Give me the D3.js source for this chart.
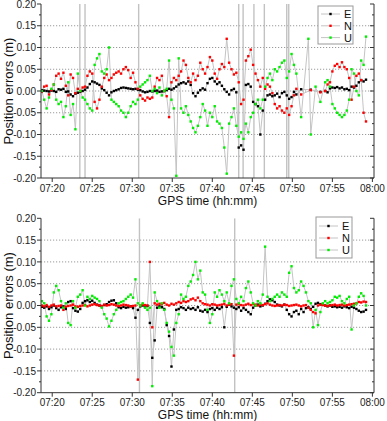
<!DOCTYPE html>
<html><head><meta charset="utf-8">
<script src="https://cdn.jsdelivr.net/npm/d3@7"></script>
<style>body{margin:0;background:#fff}svg{display:block;font-family:"Liberation Sans",Arial,sans-serif}</style>
</head><body><svg id="c" width="387" height="421"></svg>
<script>
// ---- data (position errors in millimetres, sampled every 0.3 min from 07:18.7) ----
const seriesNames = ["E", "N", "U"];
const seriesColors = ["#000000", "#ff0000", "#00ee00"];
const sampleStart = 18.7;   // minutes after 07:00
const sampleStep = 0.3;
const xTickLabels = ["07:20","07:25","07:30","07:35","07:40","07:45","07:50","07:55","08:00"];
const yTickValues = [-200,-150,-100,-50,0,50,100,150,200];

const topE = [2,1,0,-1,1, 0,-2,4,3,5, -2,-1,-8,-12,-6, -4,-2,0,3,8, 16,22,20,17,14, 6,2,-4,-10,-3,
  0,2,4,7,8, 7,6,5,4,5, 3,2,-1,-3,-2, 0,-1,0,1,-2, -1,0,2,5,3, 6,10,15,18,20,
  17,22,14,-5,-12, -4,2,6,3,18, 28,30,22,16,20, 12,4,-2,-8,2, 5,-3,-130,-125,-135, 14,16,10,-25,-30,
  -35,-100,-45,-20,-10, -8,-12,-10,-6,-14, -5,-2,-10,-18,-14, -2,-8,null,4,null, null,null,3,null,null,
  null,-2,null,0,-3, 6,8,7,9,6, 8,4,5,2,10, 8,12,20,25,22,26];
const topN = [-2,10,12,-8,2, 15,35,40,28,42, 12,-10,38,30,-5, 5,0,8,10,35, 45,40,-25,-40,-20, 10,30,38,25,30,
  38,42,45,40,50, 55,48,30,42,20, 5,-10,-18,-22,-15, -18,-15,10,30,25, 35,0,-12,-60,20, 30,25,35,45,70,
  60,30,20,40,25, 35,65,50,40,55, 78,70,40,28,50, 62,55,120,65,50, 38,42,20,-30,-20, 70,80,95,60,40,
  25,10,30,5,15, 10,-5,-30,-40,-35, -45,-50,-40,-55,-35, -10,5,null,-8,null, null,null,2,null,null,
  null,-3,null,0,15, 20,45,58,62,55, 66,55,50,30,-20, 10,35,40,25,-50,-70];
const topU = [0,-20,-40,-15,5, 15,-20,-30,-25,-60, -35,20,-55,-30,-88, 40,0,-15,-20,-30, -40,-45,60,75,85, 45,40,50,100,-20,
  -25,-30,-35,-45,-50, -60,-50,-35,-25,-30, -20,10,15,20,25, 35,0,5,-5,8, -10,0,5,70,-20, -40,-195,75,-40,-50,
  -35,-55,-70,-85,-95, -80,-60,-30,-45,-80, -50,-60,-35,-70,-75, -85,-130,-190,-75,-60, -40,-80,-105,-95,-110, -75,-95,-60,-50,-30,
  -20,-40,-20,10,30, 40,25,50,45,55, 65,70,30,45,85, 60,40,null,-60,null, null,120,-100,null,10,
  null,-25,null,20,25, 10,-30,-40,-50,-55, -60,-55,-45,-20,50, 40,0,-10,70,60,125];
const topOutages = [23.45, 24.1, 30.8, 43.3, 43.85, 45.2, 46.5, 49.3, 49.55];

const botE = [-3,-5,-2,-8,-4, 0,-6,-10,-4,-2, -8,8,10,-6,-12, -14,-8,6,10,12, 8,11,6,2,0, -2,1,3,8,11,
  12,5,-4,-6,-3, -5,-4,-2,-6,-28, -10,-2,0,-3,-1, -40,-120,-80,-5,-2, -4,-8,-45,-70,-140, -55,-10,-8,-4,-6,
  -10,-5,-8,-6,-10, -4,-12,-14,-10,-15, -8,-6,-10,-5,-8, -4,-50,-3,2,-2, -5,-8,-4,-12,-6, -10,-15,-20,-5,0,
  2,-2,0,4,10, 14,12,8,2,0, -2,2,-10,-20,-25, -15,-12,-20,-8,-15, -6,-4,-8,-3,4,
  6,3,2,0,-2, 0,-3,-2,-4,-3, -5,-2,-4,-6,-3, -5,-8,-12,-15,-14,-10];
const botN = [0,-2,1,-3,0, 2,-2,-1,0,-10, -3,-1,0,2,-2, -3,-1,0,1,-2, 0,2,3,1,0, -1,2,0,1,3,
  2,0,-1,0,2, 1,0,-2,-1,0, -170,0,2,1,0, 100,-50,5,2,4, 3,6,2,0,4, 2,5,8,6,10,
  8,10,14,16,12, 18,10,5,3,2, 0,3,2,0,1, 2,4,0,2,3, -115,2,3,1,0, 2,4,1,3,2,
  0,2,1,3,5, 2,0,-1,0,1, 0,2,1,-1,0, 1,2,0,-2,0, 1,-5,-10,-15,-18,
  0,2,1,0,-1, 0,1,2,0,1, 2,0,1,2,3, 4,5,8,7,9,8];
const botU = [10,5,-25,-35,-20, 30,45,35,10,-5, 5,-40,-45,10,-5, 20,25,35,0,20, 15,22,18,15,10, -5,-20,-30,-48,-35,
  -20,-10,5,8,10, 15,20,25,18,60, 5,0,5,-5,-10, -5,-185,30,10,-5, 5,-10,-40,-60,-95, -115,-40,-20,25,15,
  20,45,55,70,100, 60,80,30,25,-10, -40,-20,30,20,35, 25,10,30,5,45, 60,15,5,20,10, 40,55,30,5,0,
  10,5,25,135,20, 10,15,20,25,20, 30,25,20,75,90, 40,30,35,55,45, 30,10,5,-50,-10,
  -45,-15,5,10,5, 8,12,20,18,22, 10,5,15,20,-55, 0,5,20,28,22,0];
const botOutages = [30.9, 42.8];

// ---- drawing ----
const svg = d3.select("#c");
const X0 = 41, X1 = 374;
const x = d3.scaleLinear().domain([18.6, 60.2]).range([X0, X1]);
const times = topE.map((_, i) => sampleStart + i * sampleStep);
const xTickValues = xTickLabels.map(s => { const [h, m] = s.split(":").map(Number); return h * 60 + m - 420; });
const lineColor = "#c4c4c4";

function panel(id, yTop, yBot, series, outages, leg) {
  const y = d3.scaleLinear().domain([-200, 200]).range([yBot, yTop]);
  const g = svg.append("g");
  svg.append("clipPath").attr("id", id).append("rect")
    .attr("x", X0).attr("y", yTop).attr("width", X1 - X0).attr("height", yBot - yTop);

  // grid
  g.append("g").selectAll("line").data(yTickValues.filter(v => v > -200 && v < 200)).join("line")
    .attr("x1", X0).attr("x2", X1).attr("y1", d => y(d)).attr("y2", d => y(d))
    .attr("stroke", "#9a9a9a").attr("stroke-width", 1).attr("stroke-dasharray", "1.2,1.8");

  const plot = g.append("g").attr("clip-path", `url(#${id})`);
  // outage lines
  plot.selectAll("line.out").data(outages).join("line").attr("class", "out")
    .attr("x1", d => x(d)).attr("x2", d => x(d)).attr("y1", yTop).attr("y2", yBot)
    .attr("stroke", "#c2c2c2").attr("stroke-width", 1.4);

  const line = d3.line().x(d => x(d[0])).y(d => y(d[1]));
  const pts = series.map(arr => arr.map((v, i) => [times[i], v]).filter(d => d[1] !== null));
  pts.forEach(p => plot.append("path").attr("d", line(p)).attr("fill", "none")
    .attr("stroke", lineColor).attr("stroke-width", 1));
  pts.forEach((p, k) => plot.append("g").selectAll("rect").data(p).join("rect")
    .attr("x", d => x(d[0]) - 1.2).attr("y", d => y(d[1]) - 1.2)
    .attr("width", 2.4).attr("height", 2.4).attr("fill", seriesColors[k]));

  // axes
  const minor = d3.range(-175, 200, 50);
  const ax = g.append("g").attr("fill", "none").attr("stroke", "#333");
  ax.append("line").attr("x1", X0).attr("x2", X0).attr("y1", yTop).attr("y2", yBot);
  ax.append("line").attr("x1", X1).attr("x2", X1).attr("y1", yTop).attr("y2", yBot);
  ax.append("line").attr("x1", X0).attr("x2", X1).attr("y1", yBot).attr("y2", yBot);
  yTickValues.forEach(v => {
    ax.append("line").attr("x1", X0 - 4).attr("x2", X0).attr("y1", y(v)).attr("y2", y(v));
    ax.append("line").attr("x1", X1 - 4).attr("x2", X1).attr("y1", y(v)).attr("y2", y(v));
  });
  minor.forEach(v => {
    ax.append("line").attr("x1", X0 - 2).attr("x2", X0).attr("y1", y(v)).attr("y2", y(v));
    ax.append("line").attr("x1", X1 - 2).attr("x2", X1).attr("y1", y(v)).attr("y2", y(v));
  });
  xTickValues.forEach(v => ax.append("line").attr("x1", x(v)).attr("x2", x(v)).attr("y1", yBot).attr("y2", yBot + 4));

  g.append("g").selectAll("text").data(yTickValues).join("text")
    .attr("x", X0 - 5).attr("y", d => y(d) + 3.6).attr("text-anchor", "end")
    .attr("font-size", 10).attr("fill", "#222").text(d => (d / 1000).toFixed(2));
  g.append("g").selectAll("text").data(xTickValues).join("text")
    .attr("x", d => x(d)).attr("y", yBot + 13.5).attr("text-anchor", "middle")
    .attr("font-size", 10).attr("fill", "#222").text((d, i) => xTickLabels[i]);
  g.append("text").attr("x", 207.5).attr("y", yBot + 26.5).attr("text-anchor", "middle")
    .attr("font-size", 12).attr("fill", "#111").text("GPS time (hh:mm)");
  g.append("text").attr("transform", `translate(12.5,${(yTop + yBot) / 2}) rotate(-90)`)
    .attr("text-anchor", "middle").attr("font-size", 13).attr("fill", "#111").text("Position errors (m)");

  // legend
  const lg = g.append("g");
  lg.append("rect").attr("x", leg.x).attr("y", leg.y).attr("width", leg.w).attr("height", leg.h)
    .attr("fill", "#fff").attr("stroke", "#999");
  seriesNames.forEach((n, k) => {
    const yy = leg.y + leg.first + k * leg.gap;
    lg.append("line").attr("x1", leg.x + 3).attr("x2", leg.x + 22).attr("y1", yy).attr("y2", yy)
      .attr("stroke", lineColor).attr("stroke-width", 1);
    lg.append("rect").attr("x", leg.x + 11.3).attr("y", yy - 1.2).attr("width", 2.4).attr("height", 2.4)
      .attr("fill", seriesColors[k]);
    lg.append("text").attr("x", leg.x + 26).attr("y", yy + 4).attr("font-size", 11).attr("fill", "#111").text(n);
  });
}

panel("clipTop", 4, 178, [topE, topN, topU], topOutages, {x: 318, y: 6, w: 35, h: 38, first: 8, gap: 11.8});
panel("clipBot", 218.3, 392.7, [botE, botN, botU], botOutages, {x: 316, y: 217, w: 36, h: 41, first: 9, gap: 12});
</script></body></html>
